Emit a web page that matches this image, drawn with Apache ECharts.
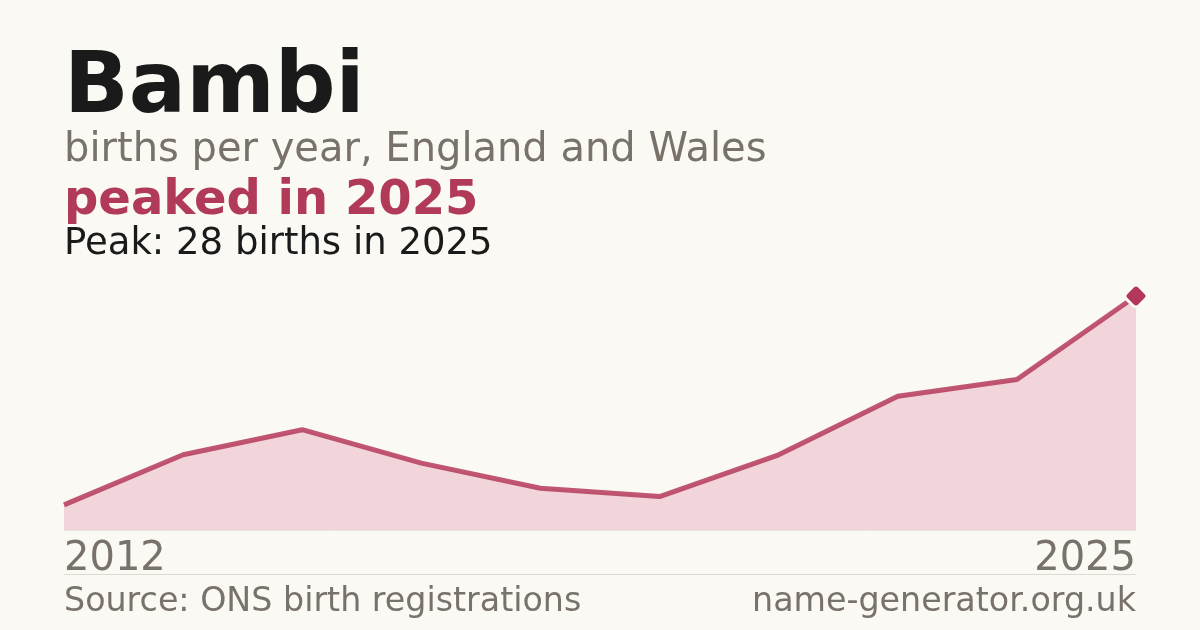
<!DOCTYPE html>
<html>
<head>
<meta charset="utf-8">
<script src="https://cdn.jsdelivr.net/npm/echarts@6/dist/echarts.min.js"></script>
<style>
html,body{margin:0;padding:0;background:#faf9f4;}
#c{width:1200px;height:630px;}
</style>
</head>
<body>
<div id="c"></div>
<script>
const years = ['2012','2013','2014','2016','2017','2019','2021','2022','2024','2025'];
const births = [3, 9, 12, 8, 5, 4, 9, 16, 18, 28];
const nameTitle = 'Bambi';
const subtitle = 'births per year, England and Wales';
const headline = 'peaked in 2025';
const peakText = 'Peak: 28 births in 2025';
const sourceText = 'Source: ONS birth registrations';
const siteText = 'name-generator.org.uk';

const FONT = '"DejaVu Sans", sans-serif';
const last = years.length - 1;
const chart = echarts.init(document.getElementById('c'), null, {renderer:'canvas'});
chart.setOption({
  backgroundColor: '#faf9f4',
  animation: false,
  grid: {left: 64, right: 64, top: 296, bottom: 100},
  xAxis: {
    type: 'category', data: years, boundaryGap: false,
    axisLine: {show: true, lineStyle: {color: '#e9e4de', width: 1}},
    axisTick: {show: false},
    splitLine: {show: false},
    axisLabel: {
      interval: (i) => i === 0 || i === last,
      fontFamily: FONT, fontSize: 40, color: '#78726a', margin: 10,
      alignMinLabel: 'left', alignMaxLabel: 'right'
    }
  },
  yAxis: {
    type: 'value', min: 0, max: 28, show: false, splitLine: {show: false}
  },
  series: [
    {
      type: 'line', data: births, symbol: 'none', z: 2,
      lineStyle: {color: '#b5395b', width: 5, opacity: 0.85},
      areaStyle: {color: '#f1d5db', opacity: 1}
    },
    {
      type: 'scatter', z: 5,
      data: [[years[last], births[last]]],
      symbol: 'roundRect', symbolSize: 18, symbolRotate: 45,
      itemStyle: {color: '#b3375a', opacity: 1, borderColor: '#faf9f4', borderWidth: 3}
    }
  ],
  graphic: [
    {type:'text', style:{text: nameTitle, x:64, y:90, fontFamily: FONT, fontWeight:'bold', fontSize: 85, fill:'#1a1a1a', verticalAlign:'middle'}},
    {type:'text', style:{text: subtitle, x:64, y:150.5, fontFamily: FONT, fontSize: 40, fill:'#78726a', verticalAlign:'middle'}},
    {type:'text', style:{text: headline, x:64, y:202, fontFamily: FONT, fontWeight:'bold', fontSize: 48, fill:'#b03a58', verticalAlign:'middle'}},
    {type:'text', style:{text: peakText, x:64, y:244.5, fontFamily: FONT, fontSize: 37, fill:'#1a1a1a', verticalAlign:'middle'}},
    {type:'line', shape:{x1:64, y1:574.5, x2:1136, y2:574.5}, style:{stroke:'#dedad3', lineWidth:1}},
    {type:'text', style:{text: sourceText, x:64, y:602, fontFamily: FONT, fontSize: 33.3, fill:'#78726a', verticalAlign:'middle'}},
    {type:'text', style:{text: siteText, x:1136, y:602, fontFamily: FONT, fontSize: 33.3, fill:'#78726a', verticalAlign:'middle', align:'right'}}
  ]
});
</script>
</body>
</html>
